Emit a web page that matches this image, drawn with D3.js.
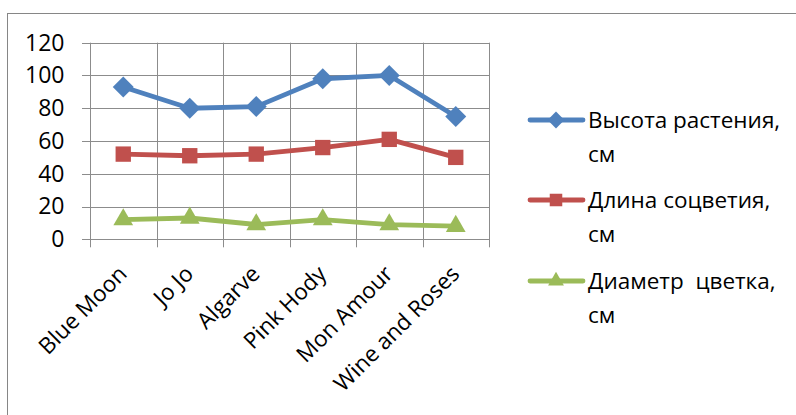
<!DOCTYPE html>
<html>
<head>
<meta charset="utf-8">
<script src="https://cdn.jsdelivr.net/npm/d3@7"></script>
<style>
  html, body { margin: 0; padding: 0; background: #fff; }
  svg { display: block; font-family: "Open Sans", "Noto Sans", sans-serif; }
</style>
</head>
<body>
<svg id="chart" width="796" height="415"></svg>
<script>
// Rose varieties and measured traits
const categories = ["Blue Moon", "Jo Jo", "Algarve", "Pink Hody", "Mon Amour", "Wine and Roses"];
const heightValues = [93, 80, 81, 98, 100, 75];
const inflorescenceValues = [52, 51, 52, 56, 61, 50];
const flowerDiameterValues = [12, 13, 9, 12, 9, 8];
const yTicks = [0, 20, 40, 60, 80, 100, 120];
const seriesNames = [["Высота растения,", "см"], ["Длина соцветия,", "см"], ["Диаметр  цветка,", "см"]];

const series = [
  { name: seriesNames[0], values: heightValues, color: "#4F81BD", marker: d3.symbolDiamond2 },
  { name: seriesNames[1], values: inflorescenceValues, color: "#C0504D", marker: d3.symbolSquare2 },
  { name: seriesNames[2], values: flowerDiameterValues, color: "#9BBB59", marker: d3.symbolTriangle2 }
];

const svg = d3.select("#chart");
const plot = { left: 90, right: 489, top: 42.7, bottom: 239.3 };

// outer frame
svg.append("rect")
  .attr("x", 7.5).attr("y", 13.5)
  .attr("width", 800).attr("height", 420)
  .attr("fill", "none").attr("stroke", "#868686").attr("stroke-width", 1);

const x = d3.scaleBand().domain(categories).range([plot.left, plot.right]);
const y = d3.scaleLinear().domain([0, 120]).range([plot.bottom, plot.top]);

const grid = svg.append("g");
// horizontal gridlines
grid.selectAll("line.h").data(yTicks).join("line")
  .attr("x1", plot.left - 8).attr("x2", plot.right)
  .attr("y1", d => Math.round(y(d)) + 0.5).attr("y2", d => Math.round(y(d)) + 0.5)
  .attr("stroke", "#8c8c8c").attr("stroke-width", 1);
// vertical gridlines at category boundaries
const bounds = categories.map(c => x(c)).concat([plot.right]);
grid.selectAll("line.v").data(bounds).join("line")
  .attr("x1", d => Math.round(d) + 0.5).attr("x2", d => Math.round(d) + 0.5)
  .attr("y1", plot.top).attr("y2", plot.bottom + 8)
  .attr("stroke", "#8c8c8c").attr("stroke-width", 1);

// y tick labels
svg.append("g").selectAll("text").data(yTicks).join("text")
  .attr("x", 64.5).attr("y", d => y(d) + 7.8)
  .attr("text-anchor", "end")
  .attr("font-size", 23)
  .attr("fill", "#000")
  .text(d => d);

// x category labels, rotated
svg.append("g").selectAll("text").data(categories).join("text")
  .attr("transform", d => `translate(${x(d) + x.bandwidth() / 2 + 5},${plot.bottom + 36}) rotate(-45)`)
  .attr("text-anchor", "end")
  .attr("font-size", 22.5)
  .attr("fill", "#000")
  .text(d => d);

const line = d3.line()
  .x((d, i) => x(categories[i]) + x.bandwidth() / 2)
  .y(d => y(d));

series.forEach(s => {
  const g = svg.append("g");
  g.append("path")
    .datum(s.values)
    .attr("d", line)
    .attr("fill", "none")
    .attr("stroke", s.color)
    .attr("stroke-width", 4.8)
    .attr("stroke-linejoin", "round")
    .attr("stroke-linecap", "round");
  g.selectAll("path.m").data(s.values).join("path")
    .attr("transform", (d, i) => `translate(${x(categories[i]) + x.bandwidth() / 2},${y(d)})`)
    .attr("d", d3.symbol().type(s.marker).size(s.marker === d3.symbolSquare2 ? 300 : 280))
    .attr("fill", s.color);
});

// legend
const legendY = [120, 200, 281];
series.forEach((s, i) => {
  const g = svg.append("g").attr("transform", `translate(0,${legendY[i]})`);
  g.append("line").attr("x1", 530).attr("x2", 583).attr("y1", 0).attr("y2", 0)
    .attr("stroke", s.color).attr("stroke-width", 4.8).attr("stroke-linecap", "round");
  g.append("path").attr("transform", "translate(556,0)")
    .attr("d", d3.symbol().type(s.marker).size(s.marker === d3.symbolSquare2 ? 200 : 180))
    .attr("fill", s.color);
  g.append("text").attr("x", 588).attr("y", 7.5)
    .attr("font-size", 22.5).attr("fill", "#000")
    .attr("xml:space", "preserve")
    .text(s.name[0]);
  g.append("text").attr("x", 588).attr("y", 41.5)
    .attr("font-size", 22.5).attr("fill", "#000")
    .text(s.name[1]);
});
</script>
</body>
</html>
